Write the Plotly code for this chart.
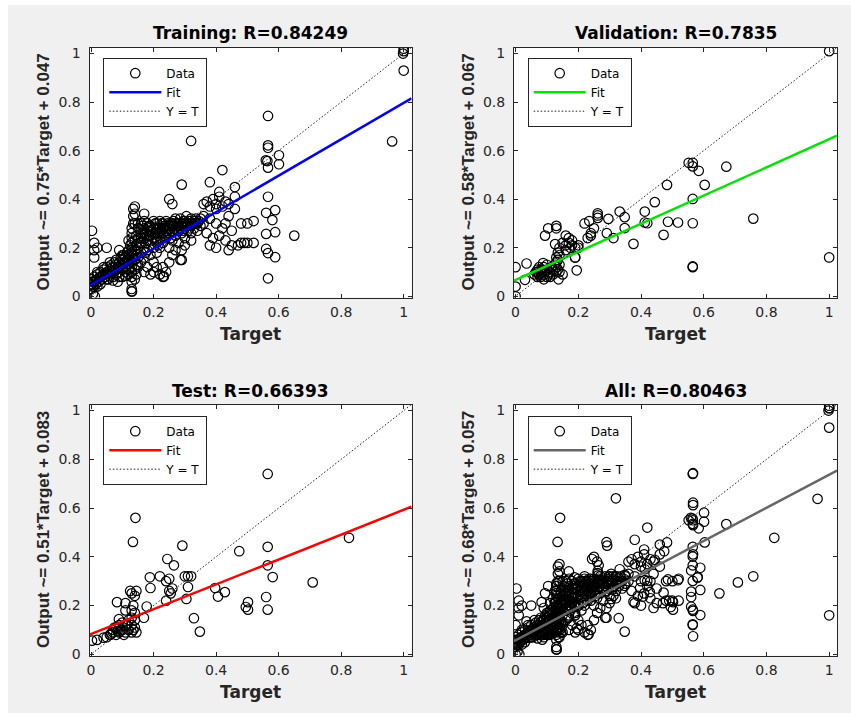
import plotly.graph_objects as go

WIN_W, WIN_H = 851, 713
OX, OY = 8, 5                      # page offset of the figure (white strip left/top)
FW, FH = WIN_W - OX, WIN_H - OY    # figure size

# ---------------- data ----------------
titles = ["Training: R=0.84249", "Validation: R=0.7835", "Test: R=0.66393", "All: R=0.80463"]
slopes = [0.75, 0.58, 0.51, 0.68]
intercepts = [0.047, 0.067, 0.083, 0.057]
fit_colors = ["#0000ff", "#00e400", "#ff0000", "#666666"]
tick_vals = [0, 0.2, 0.4, 0.6, 0.8, 1]
tick_text = ["0", "0.2", "0.4", "0.6", "0.8", "1"]
axis_lim = [-0.005, 1.025]

train_target = [
    0.0, 0.0, 0.005, 0.01, 0.01, 0.015, 0.02, 0.02, 0.025, 0.03,
    0.03, 0.035, 0.04, 0.04, 0.045, 0.05, 0.05, 0.055, 0.06, 0.06,
    0.065, 0.07, 0.07, 0.07, 0.075, 0.08, 0.08, 0.08, 0.085, 0.09,
    0.09, 0.09, 0.095, 0.1, 0.1, 0.1, 0.1, 0.105, 0.11, 0.11,
    0.11, 0.11, 0.115, 0.12, 0.12, 0.12, 0.12, 0.12, 0.12, 0.125,
    0.005, 0.015, 0.025, 0.035, 0.045, 0.055, 0.065, 0.075, 0.085, 0.095, 0.105, 0.115, 0.125, 0.135, 0.145,
    0.01, 0.03, 0.05, 0.07, 0.09, 0.11, 0.13, 0.15,
    0.02, 0.04, 0.06, 0.08, 0.1, 0.12, 0.14,
    0.13, 0.13, 0.13, 0.13, 0.13, 0.13, 0.13, 0.13, 0.13, 0.13,
    0.13, 0.13, 0.135, 0.135, 0.135, 0.14, 0.14, 0.14, 0.14, 0.14,
    0.14, 0.14, 0.145, 0.145, 0.145, 0.145, 0.145, 0.15, 0.15, 0.15,
    0.15, 0.15, 0.13, 0.13,
    0.16, 0.16, 0.16, 0.16, 0.16, 0.17, 0.17, 0.17, 0.17, 0.17,
    0.18, 0.18, 0.18, 0.18, 0.18, 0.19, 0.19, 0.19, 0.19, 0.2,
    0.2, 0.2, 0.2, 0.2, 0.21, 0.21, 0.21, 0.21, 0.22, 0.22,
    0.22, 0.22, 0.23, 0.23, 0.23, 0.23, 0.24, 0.24, 0.24, 0.25,
    0.25, 0.25, 0.25, 0.26, 0.26, 0.26, 0.26, 0.27, 0.27, 0.27,
    0.28, 0.28, 0.28, 0.29, 0.29, 0.3, 0.3, 0.3, 0.31, 0.31,
    0.32, 0.32, 0.32, 0.33, 0.33, 0.34, 0.34, 0.35, 0.35,
    0.155, 0.165, 0.175, 0.185, 0.195, 0.205, 0.215, 0.225, 0.235, 0.245,
    0.255, 0.265, 0.275, 0.285, 0.295, 0.305, 0.315, 0.325, 0.335, 0.345,
    0.165, 0.185, 0.205, 0.225, 0.245, 0.265, 0.285, 0.305, 0.15, 0.17,
    0.16, 0.17, 0.18, 0.19, 0.2, 0.21, 0.22, 0.23, 0.24, 0.25, 0.26, 0.27, 0.28, 0.29, 0.3, 0.31, 0.32, 0.33,
    0.175, 0.195, 0.215, 0.235, 0.255, 0.275, 0.295, 0.315, 0.335,
    0.17, 0.19, 0.2, 0.21, 0.22, 0.24, 0.25, 0.26, 0.27, 0.29, 0.29, 0.23, 0.3, 0.32,
    0.36, 0.37, 0.38, 0.39, 0.4, 0.41, 0.4, 0.42, 0.43, 0.41,
    0.44, 0.46, 0.46, 0.46, 0.38, 0.42, 0.29, 0.32, 0.36, 0.38,
    0.4, 0.42, 0.43, 0.45, 0.41, 0.43, 0.45, 0.47, 0.49, 0.4,
    0.38, 0.44, 0.48, 0.5, 0.52, 0.48, 0.5, 0.52, 0.37, 0.39,
    0.36, 0.44, 0.65,
    0.566, 0.566, 0.566, 0.559, 0.564, 0.566, 0.601, 0.601, 0.566, 0.56,
    0.589, 0.58, 0.56, 0.589, 0.56, 0.566, 0.589, 0.566,
    0.003, 0.01, 0.02, 0.01, 0.01, 0.05, 0.09, 0.13, 0.012, 0.131, 0.233, 0.286, 0.006, 0.0, 0.02,
    1.0, 1.0, 0.998, 1.0, 0.963,
]
train_output = [
    0.05, 0.07, 0.04, 0.06, 0.08, 0.05, 0.07, 0.09, 0.06, 0.08,
    0.1, 0.07, 0.09, 0.11, 0.08, 0.1, 0.12, 0.07, 0.09, 0.11,
    0.13, 0.08, 0.1, 0.12, 0.14, 0.09, 0.11, 0.13, 0.06, 0.1,
    0.12, 0.14, 0.16, 0.08, 0.11, 0.13, 0.15, 0.17, 0.1, 0.12,
    0.14, 0.16, 0.18, 0.09, 0.11, 0.13, 0.15, 0.17, 0.19, 0.21,
    0.06, 0.065, 0.075, 0.085, 0.095, 0.095, 0.105, 0.11, 0.12, 0.13, 0.14, 0.15, 0.16, 0.17, 0.19,
    0.04, 0.05, 0.07, 0.065, 0.08, 0.085, 0.1, 0.13,
    0.1, 0.12, 0.14, 0.15, 0.17, 0.23, 0.3,
    0.06, 0.08, 0.1, 0.12, 0.14, 0.16, 0.18, 0.2, 0.22, 0.24,
    0.26, 0.28, 0.3, 0.33, 0.36, 0.37, 0.34, 0.07, 0.11, 0.15,
    0.19, 0.23, 0.09, 0.13, 0.17, 0.21, 0.25, 0.12, 0.16, 0.2,
    0.24, 0.28, 0.03, 0.02,
    0.14, 0.18, 0.22, 0.26, 0.3, 0.16, 0.2, 0.24, 0.28, 0.31,
    0.12, 0.19, 0.23, 0.27, 0.3, 0.17, 0.21, 0.25, 0.29, 0.14,
    0.2, 0.24, 0.28, 0.31, 0.18, 0.22, 0.26, 0.3, 0.2, 0.24,
    0.28, 0.31, 0.12, 0.22, 0.26, 0.3, 0.24, 0.28, 0.31, 0.2,
    0.26, 0.29, 0.4, 0.23, 0.27, 0.3, 0.38, 0.25, 0.28, 0.32,
    0.22, 0.27, 0.3, 0.26, 0.29, 0.24, 0.28, 0.31, 0.27, 0.3,
    0.26, 0.29, 0.32, 0.28, 0.3, 0.27, 0.3, 0.29, 0.32,
    0.22, 0.26, 0.22, 0.25, 0.27, 0.26, 0.28, 0.27, 0.29, 0.27,
    0.3, 0.29, 0.3, 0.28, 0.31, 0.29, 0.31, 0.3, 0.32, 0.31,
    0.29, 0.29, 0.3, 0.3, 0.3, 0.31, 0.32, 0.33, 0.3, 0.34,
    0.24, 0.26, 0.25, 0.27, 0.26, 0.28, 0.26, 0.28, 0.27, 0.28, 0.29, 0.3, 0.29, 0.3, 0.3, 0.29, 0.3, 0.31,
    0.18, 0.23, 0.21, 0.25, 0.24, 0.27, 0.27, 0.28, 0.3,
    0.1, 0.09, 0.1, 0.12, 0.09, 0.1, 0.14, 0.17, 0.19, 0.15, 0.19, 0.08, 0.21, 0.23,
    0.38, 0.39, 0.37, 0.4, 0.38, 0.41, 0.36, 0.37, 0.39, 0.43,
    0.38, 0.41, 0.36, 0.45, 0.47, 0.52, 0.46, 0.64, 0.3, 0.32,
    0.3, 0.28, 0.3, 0.27, 0.25, 0.23, 0.21, 0.21, 0.22, 0.2,
    0.21, 0.19, 0.3, 0.3, 0.31, 0.22, 0.22, 0.22, 0.26, 0.24,
    0.33, 0.33, 0.25,
    0.743, 0.622, 0.612, 0.56, 0.557, 0.53, 0.581, 0.544, 0.41, 0.344,
    0.355, 0.314, 0.257, 0.264, 0.195, 0.178, 0.161, 0.074,
    0.27, 0.22, 0.2, 0.16, 0.19, 0.2, 0.19, 0.19, 0.0, 0.02, 0.082, 0.15, 0.01, 0.03, 0.04,
    1.02, 1.01, 1.0, 0.93, 0.638,
]

val_target = [
    1.0, 1.0, 0.758, 0.672, 0.552, 0.565, 0.565, 0.584, 0.603, 0.483,
    0.565, 0.444, 0.412, 0.412, 0.42, 0.486, 0.518, 0.565, 0.376, 0.472,
    0.565, 0.565, 0.348, 0.348, 0.332, 0.296, 0.291, 0.312, 0.262, 0.262,
    0.262, 0.22, 0.235, 0.24, 0.24, 0.23, 0.25, 0.195, 0.19, 0.2,
    0.18, 0.16, 0.15, 0.17, 0.104, 0.13, 0.13, 0.094, 0.126, 0.088,
    0.07, 0.075, 0.08, 0.08, 0.0, 0.035, 0.03, 0.0, 0.0, 0.137,
    0.15, 0.14, 0.16, 0.17, 0.18, 0.19, 0.2, 0.16, 0.175, 0.19,
    0.06, 0.065, 0.07, 0.07, 0.075, 0.08, 0.08, 0.085, 0.09, 0.09,
    0.095, 0.1, 0.1, 0.105, 0.11, 0.11, 0.115, 0.12, 0.12, 0.125,
    0.13, 0.13, 0.13, 0.13, 0.135, 0.135, 0.135, 0.14, 0.14, 0.14,
    0.075, 0.1, 0.09,
]
val_output = [
    1.01, 0.16, 0.32, 0.534, 0.55, 0.55, 0.535, 0.517, 0.459, 0.459,
    0.401, 0.388, 0.349, 0.304, 0.301, 0.307, 0.304, 0.301, 0.216, 0.253,
    0.123, 0.12, 0.326, 0.281, 0.349, 0.319, 0.26, 0.24, 0.342, 0.333,
    0.323, 0.3, 0.31, 0.25, 0.26, 0.24, 0.28, 0.107, 0.16, 0.2,
    0.21, 0.25, 0.22, 0.24, 0.28, 0.29, 0.28, 0.25, 0.215, 0.137,
    0.1, 0.09, 0.11, 0.095, 0.12, 0.135, 0.068, 0.04, 0.0, 0.07,
    0.09, 0.2, 0.21, 0.22, 0.23, 0.2, 0.21, 0.19, 0.2, 0.16,
    0.09, 0.1, 0.08, 0.11, 0.09, 0.1, 0.08, 0.11, 0.09, 0.07,
    0.1, 0.08, 0.11, 0.09, 0.1, 0.08, 0.12, 0.09, 0.11, 0.13,
    0.1, 0.12, 0.14, 0.16, 0.18, 0.11, 0.15, 0.13, 0.17, 0.1,
    0.12, 0.13, 0.12,
]

test_target = [
    0.565, 0.825, 0.709, 0.565, 0.474, 0.565, 0.581, 0.56, 0.565, 0.502,
    0.502, 0.495, 0.397, 0.406, 0.428, 0.329, 0.348, 0.142, 0.134, 0.292,
    0.244, 0.265, 0.3, 0.31, 0.32, 0.31, 0.305, 0.22, 0.24, 0.25,
    0.26, 0.24, 0.255, 0.25, 0.188, 0.19, 0.14, 0.13, 0.145, 0.125,
    0.083, 0.11, 0.11, 0.089, 0.178, 0.169, 0.003, 0.019, 0.04, 0.062,
    0.05, 0.06, 0.07, 0.07, 0.08, 0.08, 0.09, 0.09, 0.1, 0.1,
    0.11, 0.11, 0.12, 0.12, 0.13, 0.13, 0.13, 0.13, 0.135, 0.135,
    0.14, 0.14, 0.14, 0.145, 0.075, 0.095, 0.115, 0.065, 0.085, 0.105,
]
test_output = [
    0.74, 0.478, 0.295, 0.441, 0.423, 0.365, 0.317, 0.235, 0.183, 0.214,
    0.183, 0.194, 0.272, 0.237, 0.255, 0.148, 0.093, 0.56, 0.461, 0.446,
    0.391, 0.365, 0.32, 0.32, 0.32, 0.276, 0.227, 0.32, 0.3, 0.26,
    0.27, 0.22, 0.25, 0.31, 0.316, 0.272, 0.24, 0.25, 0.26, 0.26,
    0.214, 0.21, 0.18, 0.144, 0.196, 0.15, 0.056, 0.059, 0.068, 0.08,
    0.07, 0.08, 0.09, 0.1, 0.08, 0.11, 0.09, 0.12, 0.1, 0.13,
    0.09, 0.12, 0.1, 0.14, 0.09, 0.12, 0.15, 0.18, 0.1, 0.2,
    0.11, 0.14, 0.17, 0.09, 0.11, 0.1, 0.12, 0.085, 0.095, 0.08,
]

# "All" is the union of the three sets
all_target = train_target + val_target + test_target
all_output = train_output + val_output + test_output

targets = [train_target, val_target, test_target, all_target]
outputs = [train_output, val_output, test_output, all_output]
y_labels = ["Output ~= %.2g*Target + %.2g" % (s, b) for s, b in zip(slopes, intercepts)]

# ---------------- layout geometry (window pixels) ----------------
ax_px = [  # left, right, top, bottom
    (89.5, 411.5, 47.5, 297.5),
    (514.0, 837.0, 47.5, 297.5),
    (89.5, 411.5, 404.5, 655.5),
    (514.0, 837.0, 404.5, 655.5),
]
title_y = [33, 33, 391, 391]
xlab_y = [334, 334, 692, 692]
ylab_x = [43, 468, 43, 468]
legend_pos = [(103.3, 57.7), (527.7, 57.7), (103.3, 415.7), (527.7, 415.7)]

def px_x(v):
    return (v - OX) / FW

def px_y(v):
    return 1 - (v - OY) / FH

AXC = "#262626"
fig = go.Figure()
annotations = []
layout = {}

for i in range(4):
    sfx = "" if i == 0 else str(i + 1)
    xa, ya = "x" + sfx, "y" + sfx
    lg = "legend" + sfx
    fig.add_trace(go.Scatter(
        x=targets[i], y=outputs[i], mode="markers", name="Data",
        marker=dict(symbol="circle-open", size=9.5, color="black", line=dict(width=1.2)),
        xaxis=xa, yaxis=ya, legend=lg, showlegend=True))
    fx = axis_lim
    fy = [slopes[i] * v + intercepts[i] for v in fx]
    fig.add_trace(go.Scatter(
        x=fx, y=fy, mode="lines", name="Fit",
        line=dict(color=fit_colors[i], width=2.5),
        xaxis=xa, yaxis=ya, legend=lg, showlegend=True))
    fig.add_trace(go.Scatter(
        x=axis_lim, y=axis_lim, mode="lines", name="Y = T",
        line=dict(color="#222222", width=1, dash="1.5px,2px"),
        xaxis=xa, yaxis=ya, legend=lg, showlegend=True))

    l, r, t, b = ax_px[i]
    common = dict(range=axis_lim, tickvals=tick_vals, ticktext=tick_text,
                  ticks="inside", ticklen=4, tickcolor=AXC, tickwidth=1,
                  showline=True, linecolor=AXC, linewidth=1, mirror="ticks",
                  showgrid=False, zeroline=False, automargin=False,
                  tickfont=dict(family="DejaVu Sans", size=14, color=AXC))
    layout["xaxis" + sfx] = dict(domain=[px_x(l), px_x(r)], anchor=ya, ticklabelstandoff=2, **common)
    layout["yaxis" + sfx] = dict(domain=[px_y(b), px_y(t)], anchor=xa, ticklabelstandoff=5, **common)
    lx, ly = legend_pos[i]
    layout[lg] = dict(x=px_x(lx), y=px_y(ly), xanchor="left", yanchor="top",
                      bgcolor="white", bordercolor=AXC, borderwidth=1,
                      font=dict(family="DejaVu Sans", size=12, color="black"),
                      itemwidth=52, tracegroupgap=0)

    cx = px_x((l + r) / 2)
    annotations.append(dict(text=titles[i], x=cx, y=px_y(title_y[i]), xref="paper", yref="paper",
                            showarrow=False, xanchor="center", yanchor="middle",
                            font=dict(family="DejaVu Sans", size=17, color="black", weight="bold")))
    annotations.append(dict(text="Target", x=cx, y=px_y(xlab_y[i]), xref="paper", yref="paper",
                            showarrow=False, xanchor="center", yanchor="middle",
                            font=dict(family="DejaVu Sans", size=17, color=AXC, weight="bold")))
    annotations.append(dict(text=y_labels[i], x=px_x(ylab_x[i]), y=px_y((t + b) / 2),
                            xref="paper", yref="paper", textangle=-90,
                            showarrow=False, xanchor="center", yanchor="middle",
                            font=dict(family="Liberation Sans", size=17, color=AXC, weight="bold")))

fig.update_layout(
    width=FW, height=FH, margin=dict(l=0, r=0, t=0, b=0),
    paper_bgcolor="#f0f0f0", plot_bgcolor="white",
    annotations=annotations,
    **layout,
)

fig.write_html("out.html",
               post_script="document.body.style.margin='%dpx 0px 0px %dpx';"
                           "document.body.style.overflow='hidden';" % (OY, OX))
